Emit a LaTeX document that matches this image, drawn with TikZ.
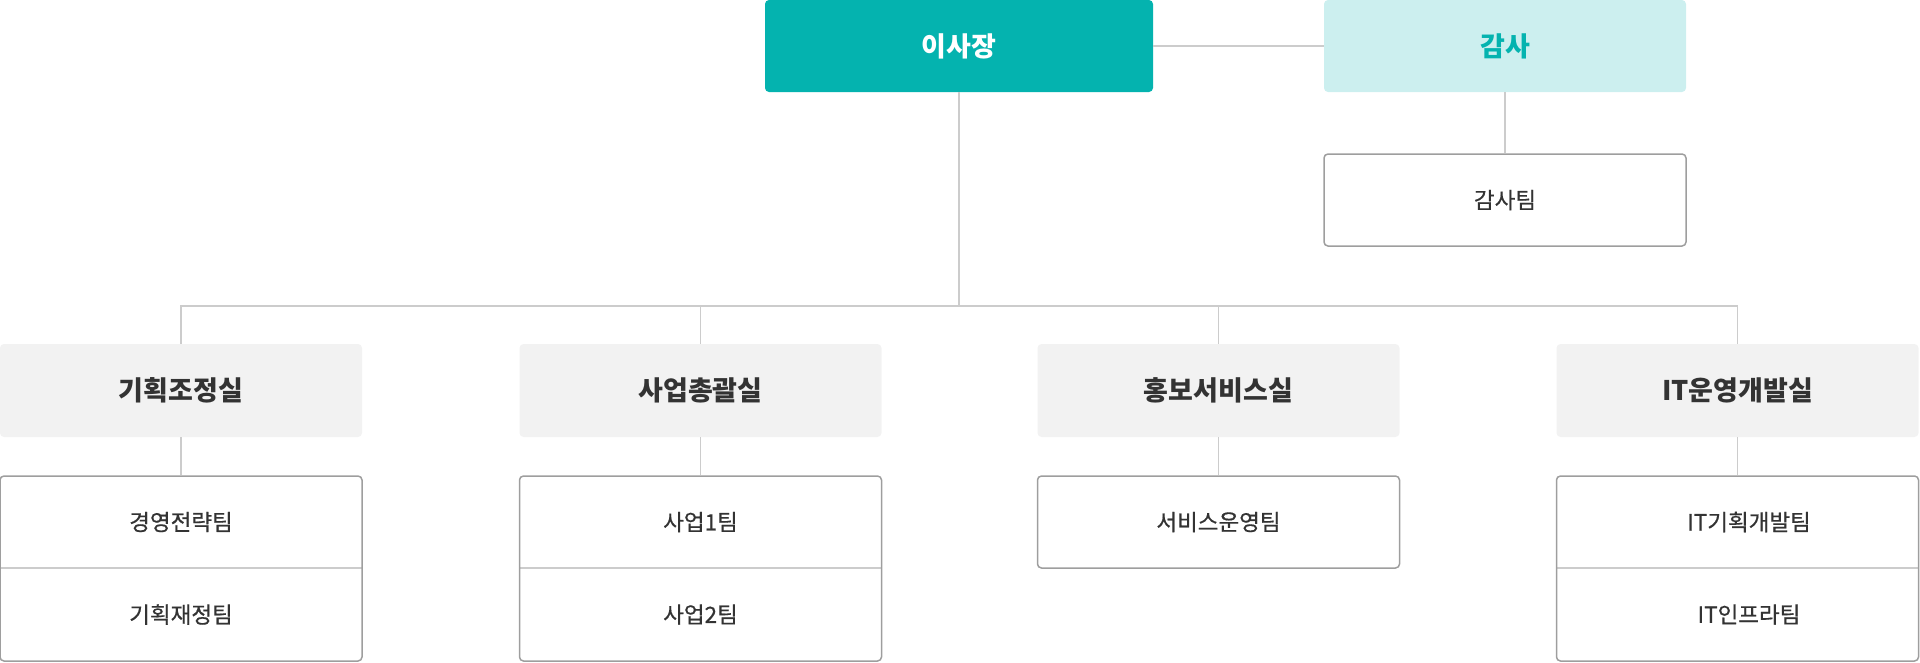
\documentclass[tikz,border=0pt]{standalone}
\usepackage{fontspec}
\newfontfamily\kr{Noto Sans CJK KR}
\newfontfamily\krm{Noto Sans CJK KR}[FakeBold=0.6]
\definecolor{teal1}{HTML}{04B3AF}
\definecolor{tealL}{HTML}{CCEFEF}
\definecolor{grayF}{HTML}{F2F2F2}
\definecolor{txt}{HTML}{333333}
\definecolor{lineC}{HTML}{CCCCCC}
\definecolor{bordC}{HTML}{9E9E9E}
\begin{document}
\begin{tikzpicture}[x=1pt,y=-1pt,
  box/.style={rectangle,rounded corners=4pt,minimum width=362pt,inner sep=0pt,font=\kr\fontsize{27}{32}\selectfont\bfseries},
  topbox/.style={box,fill=teal1,text=white,minimum width=388pt,minimum height=92pt},
  auditbox/.style={box,fill=tealL,text=teal1,minimum height=92pt},
  deptbox/.style={box,fill=grayF,text=txt,minimum height=93pt},
  teambox/.style={rectangle,rounded corners=4pt,minimum width=362pt,draw=bordC,line width=1.5pt,inner sep=0pt},
  teamtxt/.style={inner sep=0pt,text=txt,font=\krm\fontsize{22.5}{27}\selectfont},
  conn/.style={draw=lineC,line width=1.4pt},
  divl/.style={draw=lineC,line width=1.4pt}
]
\useasboundingbox (0,0) rectangle (1920,662);
% top level
\node[topbox] (chair) at (959,46) {이사장};
\node[auditbox] (audit) at (1505,46) {감사};
\node[teambox,minimum height=92pt] (auditteam) at (1505,200) {};
\node[teamtxt] (t0) at (auditteam.center) {감사팀};
% departments
\node[deptbox] (d1) at (181,390.5) {기획조정실};
\node[deptbox] (d2) at (700.5,390.5) {사업총괄실};
\node[deptbox] (d3) at (1218.5,390.5) {홍보서비스실};
\node[deptbox] (d4) at (1737.5,390.5) {IT운영개발실};
% dividers (drawn under box borders)
\draw[divl] (0,568) -- (362,568);
\draw[divl] (519.5,568) -- (881.5,568);
\draw[divl] (1556.5,568) -- (1918.5,568);
% team boxes
\node[teambox,minimum height=185pt] (b1) at (181,568.5) {};
\node[teambox,minimum height=185pt] (b2) at (700.5,568.5) {};
\node[teambox,minimum height=92pt] (b3) at (1218.5,522) {};
\node[teambox,minimum height=185pt] (b4) at (1737.5,568.5) {};
\node[teamtxt] (t11) at (181,522) {경영전략팀};
\node[teamtxt] (t12) at (181,614.5) {기획재정팀};
\node[teamtxt] (t21) at (700.5,522) {사업1팀};
\node[teamtxt] (t22) at (700.5,614.5) {사업2팀};
\node[teamtxt] (t31) at (1218.5,522) {서비스운영팀};
\node[teamtxt] (t41) at (1749,522) {IT기획개발팀};
\node[teamtxt] (t42) at (1749,614.5) {IT인프라팀};
% connectors
\draw[conn] (chair.east) -- (audit.west);
\draw[conn] (audit.south) -- (auditteam.north);
\draw[conn] (chair.south) -- (chair.south |- 0,306) coordinate (bus);
\draw[conn] (d1.north) |- (bus) -| (d4.north);
\draw[conn] (d2.north) -- (d2.north |- bus);
\draw[conn] (d3.north) -- (d3.north |- bus);
\draw[conn] (d1.south) -- (b1.north);
\draw[conn] (d2.south) -- (b2.north);
\draw[conn] (d3.south) -- (b3.north);
\draw[conn] (d4.south) -- (b4.north);
\end{tikzpicture}
\end{document}
